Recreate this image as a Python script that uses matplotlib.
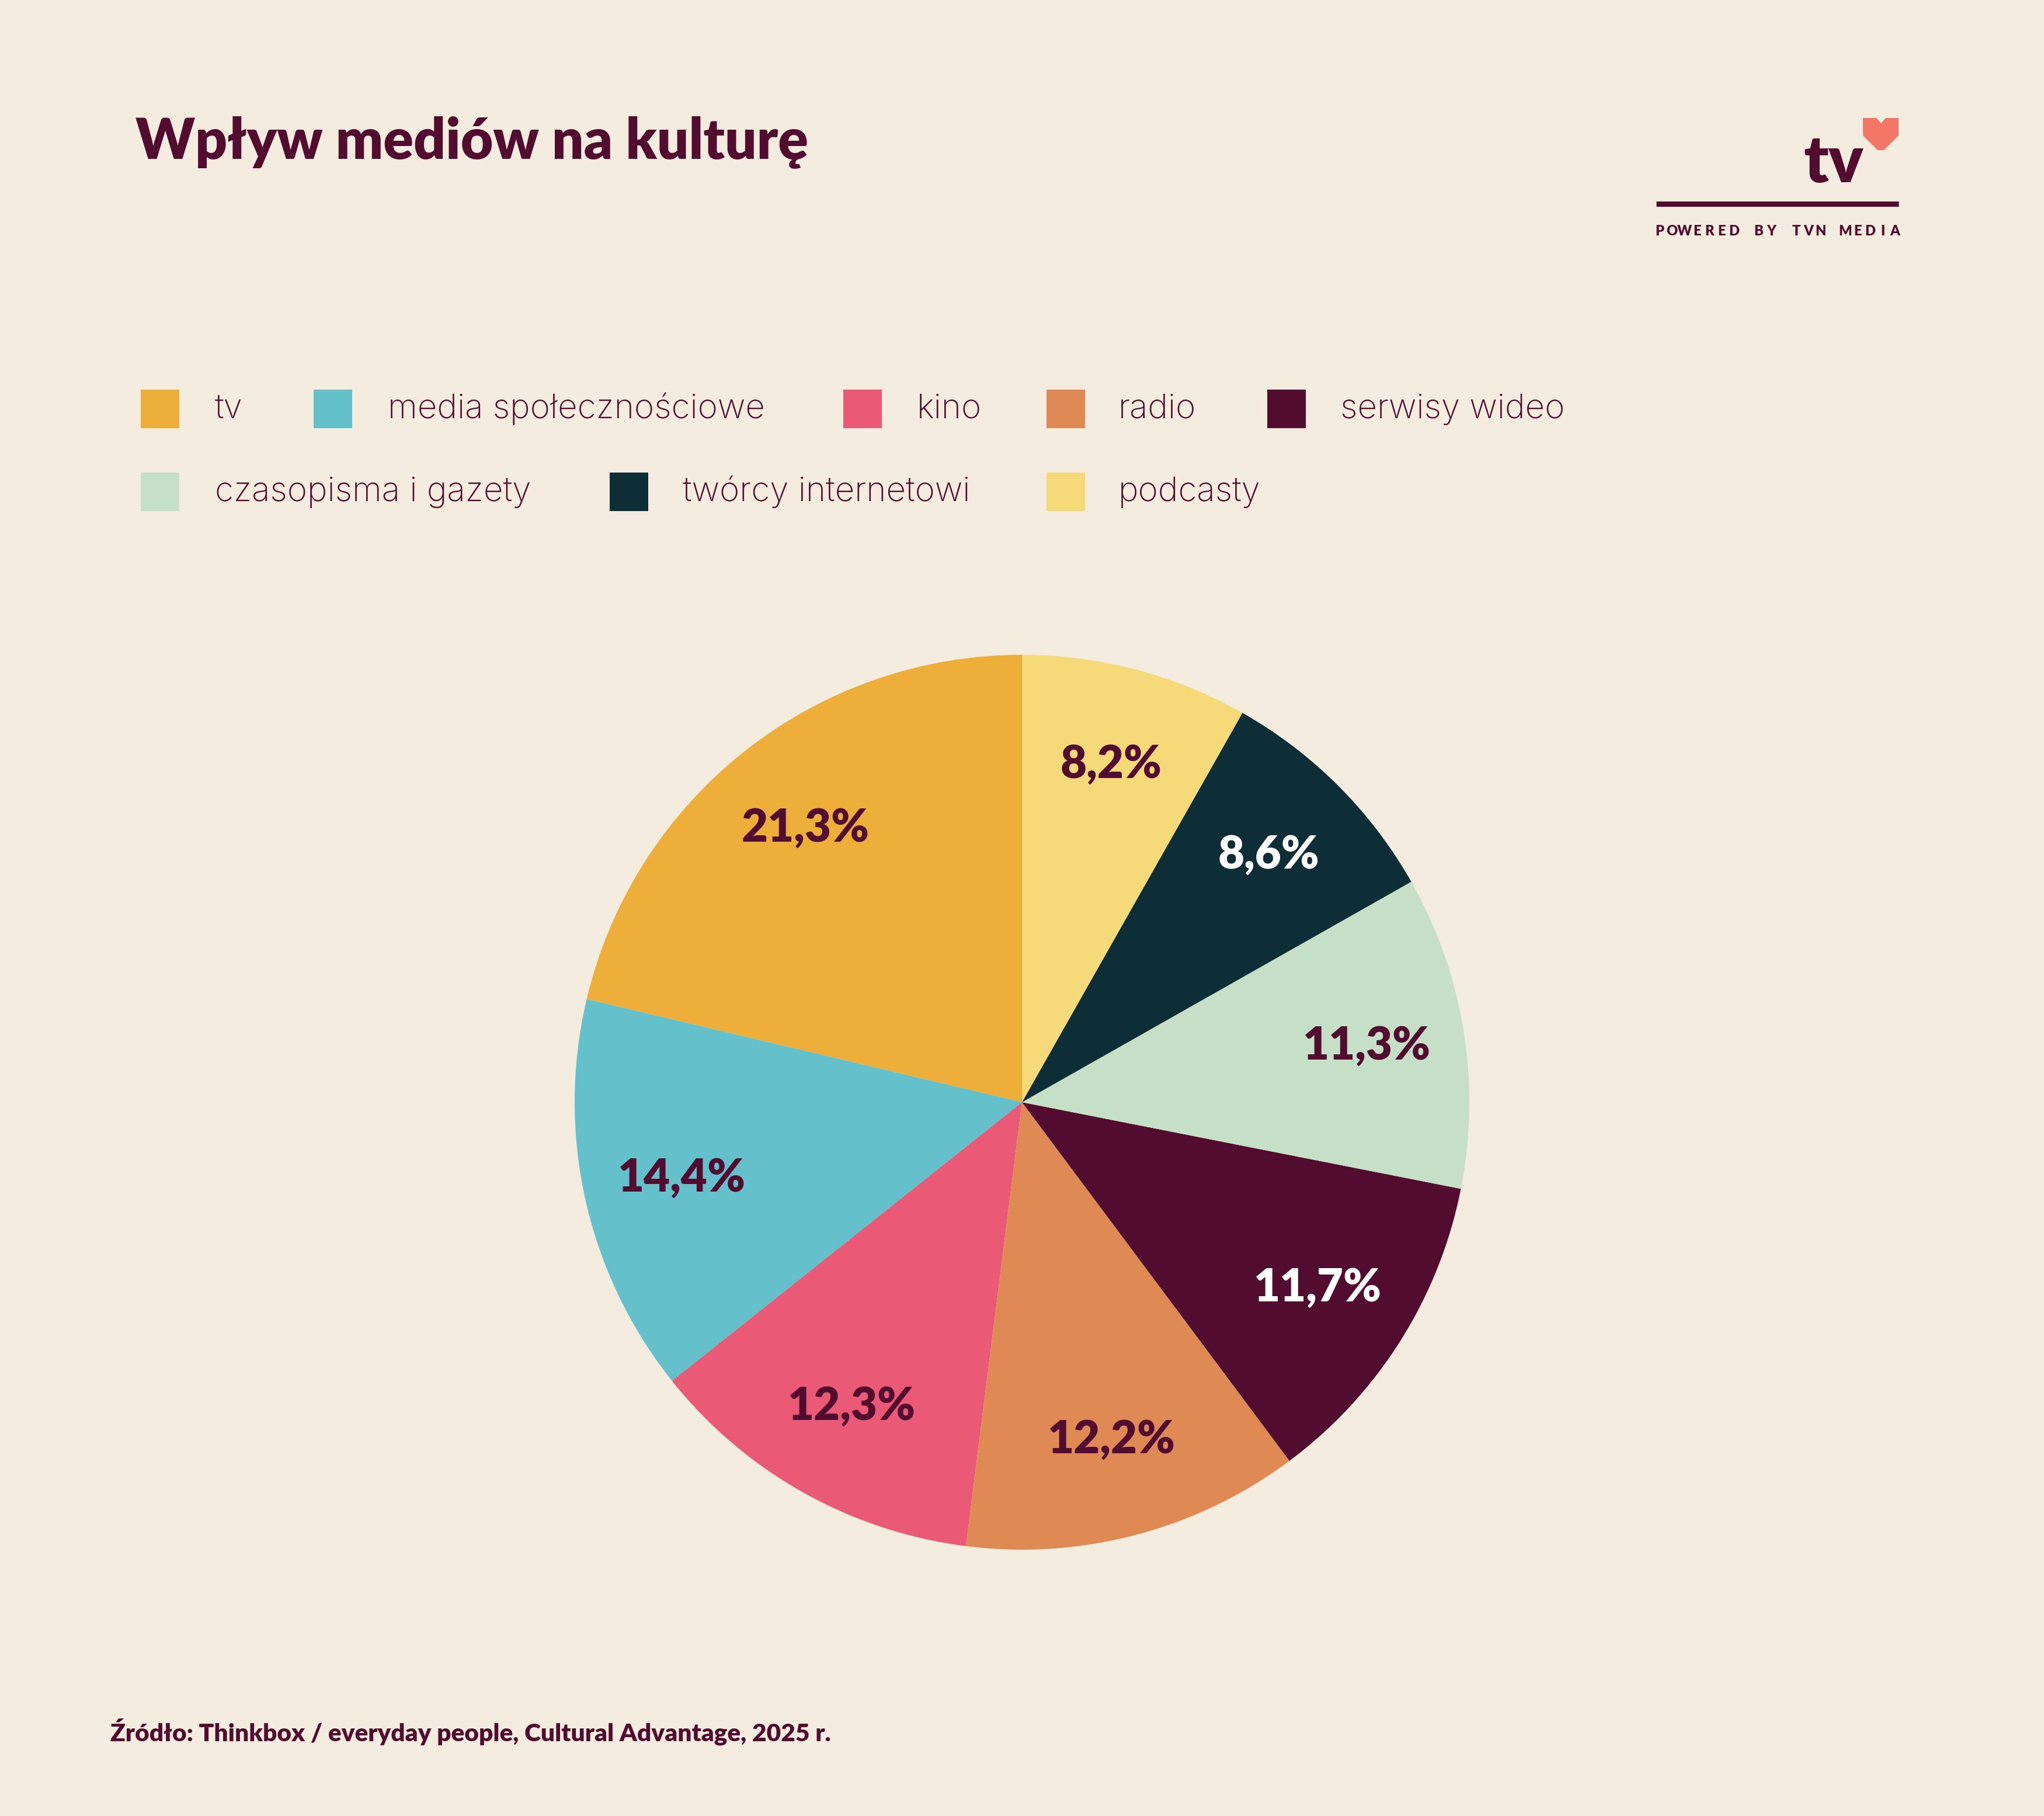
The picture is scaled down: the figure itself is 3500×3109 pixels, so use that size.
import matplotlib as mpl
mpl.use('Agg')
import matplotlib.pyplot as plt
from matplotlib.patches import Rectangle, Polygon
import numpy as np

# data
categories = ['tv', 'media społecznościowe', 'kino', 'radio', 'serwisy wideo',
              'czasopisma i gazety', 'twórcy internetowi', 'podcasty']
values = [21.3, 14.4, 12.3, 12.2, 11.7, 11.3, 8.6, 8.2]
colors = ['#EDAF3A', '#64C1CB', '#EA5975', '#DF8955', '#510C30',
          '#C6DFC7', '#0D2E37', '#F6DA7A']
label_colors = ['#510C30', '#510C30', '#510C30', '#510C30', '#FFFFFF',
                '#510C30', '#FFFFFF', '#510C30']

title = 'Wpływ mediów na kulturę'
source = 'Źródło: Thinkbox / everyday people, Cultural Advantage, 2025 r.'

BG = '#F4EDDF'
INK = '#510C30'
W, H = 3500, 3109

plt.rcParams['font.family'] = ['Lato', 'DejaVu Sans']

fig = plt.figure(figsize=(W / 100, H / 100), dpi=100, facecolor=BG)

# overlay in pixel coordinates (y down)
ov = fig.add_axes([0, 0, 1, 1])
ov.set_xlim(0, W)
ov.set_ylim(H, 0)
ov.axis('off')

ov.text(232, 272, title, fontsize=69, fontweight='heavy', color=INK,
        ha='left', va='baseline')
ov.text(189, 2980, source, fontsize=30.5, fontweight='heavy', color=INK,
        ha='left', va='baseline')

# logo
ov.text(3191, 312, 'tv', fontsize=80, fontweight='heavy', color=INK,
        ha='right', va='baseline')
heart = [(3190, 202), (3213, 202), (3221, 211), (3229, 202), (3251, 202),
         (3251, 232), (3226, 257), (3215, 257), (3190, 232)]
ov.add_patch(Polygon(heart, closed=True, facecolor='#F27766', edgecolor='none'))
ov.plot([2836, 3251], [348.5, 348.5], color=INK, lw=6.5, solid_capstyle='butt')
tag = 'POWERED BY TVN MEDIA'
x0, x1 = 2842, 3245
step = (x1 - x0) / (len(tag) - 1)
for i, ch in enumerate(tag):
    ov.text(x0 + i * step, 403, ch, fontsize=17, fontweight='heavy', color=INK,
            ha='center', va='baseline')

# legend (manual, two rows)
leg_sq_x = [241, 537, 1444, 1792, 2170, 241, 1044, 1792]
leg_txt_x = [368, 664, 1570, 1915, 2295, 368, 1169, 1915]
leg_row_y = [700, 842]
leg_row = [0, 0, 0, 0, 0, 1, 1, 1]
sq = 66
for cat, col, sx, tx, r in zip(categories, colors, leg_sq_x, leg_txt_x, leg_row):
    cy = leg_row_y[r]
    ov.add_patch(Rectangle((sx, cy - sq / 2), sq, sq, facecolor=col, edgecolor='none'))
    ov.text(tx, cy + 16, cat, fontsize=42, fontweight='light', color=INK,
            family=['Inter', 'Lato', 'DejaVu Sans'], ha='left', va='baseline')

# pie
cx, cy, rad = 1750, 1887, 766
ax = fig.add_axes([(cx - rad) / W, (H - cy - rad) / H, 2 * rad / W, 2 * rad / H])
wedges, _ = ax.pie(values, colors=colors, startangle=90, counterclock=True,
                   radius=1, wedgeprops=dict(linewidth=0, edgecolor='none'))
ax.set_xlim(-1, 1)
ax.set_ylim(-1, 1)
ax.set_aspect('equal')
ax.axis('off')

for w, v, lc in zip(wedges, values, label_colors):
    ang = np.deg2rad((w.theta1 + w.theta2) / 2)
    d = 0.78
    ax.text(d * np.cos(ang), d * np.sin(ang), f'{v:.1f}'.replace('.', ',') + '%',
            fontsize=56, fontweight='heavy', color=lc, ha='center', va='center')

fig.savefig('out.png', dpi=100, facecolor=BG)
